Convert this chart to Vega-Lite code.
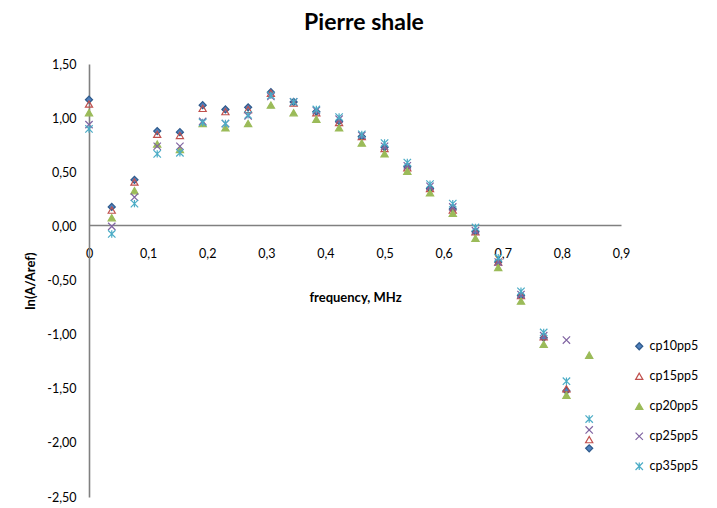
{
  "$schema": "https://vega.github.io/schema/vega-lite/v6.json",
  "width": 532,
  "height": 433,
  "autosize": "none",
  "padding": {"left": 89, "top": 64, "right": 96, "bottom": 11},
  "background": "white",
  "title": {
    "text": "Pierre shale",
    "font": "Lato",
    "fontSize": 23,
    "fontWeight": "bold",
    "color": "black",
    "anchor": "middle",
    "dx": 9,
    "offset": 23
  },
  "config": {
    "view": {"stroke": null},
    "axis": {
      "labelFont": "Lato",
      "labelFontSize": 12.5,
      "labelColor": "black",
      "titleFont": "Lato",
      "titleFontSize": 13,
      "titleFontWeight": "bold",
      "titleColor": "black",
      "domainColor": "#808080",
      "domainWidth": 1.6,
      "ticks": false,
      "grid": false,
      "labelFlush": false
    },
    "legend": {
      "labelFont": "Lato",
      "labelFontSize": 12.5,
      "labelColor": "black",
      "symbolStrokeWidth": 1.2
    }
  },
  "data": {
    "values": [
      {"frequency": 0.0000, "series": "cp10pp5", "lnA": 1.17},
      {"frequency": 0.0385, "series": "cp10pp5", "lnA": 0.18},
      {"frequency": 0.0769, "series": "cp10pp5", "lnA": 0.43},
      {"frequency": 0.1154, "series": "cp10pp5", "lnA": 0.88},
      {"frequency": 0.1538, "series": "cp10pp5", "lnA": 0.87},
      {"frequency": 0.1923, "series": "cp10pp5", "lnA": 1.12},
      {"frequency": 0.2308, "series": "cp10pp5", "lnA": 1.08},
      {"frequency": 0.2692, "series": "cp10pp5", "lnA": 1.10},
      {"frequency": 0.3077, "series": "cp10pp5", "lnA": 1.24},
      {"frequency": 0.3462, "series": "cp10pp5", "lnA": 1.15},
      {"frequency": 0.3846, "series": "cp10pp5", "lnA": 1.06},
      {"frequency": 0.4231, "series": "cp10pp5", "lnA": 0.97},
      {"frequency": 0.4615, "series": "cp10pp5", "lnA": 0.83},
      {"frequency": 0.5000, "series": "cp10pp5", "lnA": 0.73},
      {"frequency": 0.5385, "series": "cp10pp5", "lnA": 0.55},
      {"frequency": 0.5769, "series": "cp10pp5", "lnA": 0.35},
      {"frequency": 0.6154, "series": "cp10pp5", "lnA": 0.16},
      {"frequency": 0.6538, "series": "cp10pp5", "lnA": -0.05},
      {"frequency": 0.6923, "series": "cp10pp5", "lnA": -0.33},
      {"frequency": 0.7308, "series": "cp10pp5", "lnA": -0.64},
      {"frequency": 0.7692, "series": "cp10pp5", "lnA": -1.03},
      {"frequency": 0.8077, "series": "cp10pp5", "lnA": -1.52},
      {"frequency": 0.8462, "series": "cp10pp5", "lnA": -2.05},

      {"frequency": 0.0000, "series": "cp15pp5", "lnA": 1.13},
      {"frequency": 0.0385, "series": "cp15pp5", "lnA": 0.15},
      {"frequency": 0.0769, "series": "cp15pp5", "lnA": 0.41},
      {"frequency": 0.1154, "series": "cp15pp5", "lnA": 0.85},
      {"frequency": 0.1538, "series": "cp15pp5", "lnA": 0.84},
      {"frequency": 0.1923, "series": "cp15pp5", "lnA": 1.09},
      {"frequency": 0.2308, "series": "cp15pp5", "lnA": 1.06},
      {"frequency": 0.2692, "series": "cp15pp5", "lnA": 1.08},
      {"frequency": 0.3077, "series": "cp15pp5", "lnA": 1.23},
      {"frequency": 0.3462, "series": "cp15pp5", "lnA": 1.14},
      {"frequency": 0.3846, "series": "cp15pp5", "lnA": 1.05},
      {"frequency": 0.4231, "series": "cp15pp5", "lnA": 0.96},
      {"frequency": 0.4615, "series": "cp15pp5", "lnA": 0.83},
      {"frequency": 0.5000, "series": "cp15pp5", "lnA": 0.72},
      {"frequency": 0.5385, "series": "cp15pp5", "lnA": 0.54},
      {"frequency": 0.5769, "series": "cp15pp5", "lnA": 0.35},
      {"frequency": 0.6154, "series": "cp15pp5", "lnA": 0.15},
      {"frequency": 0.6538, "series": "cp15pp5", "lnA": -0.05},
      {"frequency": 0.6923, "series": "cp15pp5", "lnA": -0.33},
      {"frequency": 0.7308, "series": "cp15pp5", "lnA": -0.64},
      {"frequency": 0.7692, "series": "cp15pp5", "lnA": -1.02},
      {"frequency": 0.8077, "series": "cp15pp5", "lnA": -1.50},
      {"frequency": 0.8462, "series": "cp15pp5", "lnA": -1.97},

      {"frequency": 0.0000, "series": "cp20pp5", "lnA": 1.05},
      {"frequency": 0.0385, "series": "cp20pp5", "lnA": 0.08},
      {"frequency": 0.0769, "series": "cp20pp5", "lnA": 0.33},
      {"frequency": 0.1154, "series": "cp20pp5", "lnA": 0.76},
      {"frequency": 0.1538, "series": "cp20pp5", "lnA": 0.71},
      {"frequency": 0.1923, "series": "cp20pp5", "lnA": 0.95},
      {"frequency": 0.2308, "series": "cp20pp5", "lnA": 0.91},
      {"frequency": 0.2692, "series": "cp20pp5", "lnA": 0.95},
      {"frequency": 0.3077, "series": "cp20pp5", "lnA": 1.12},
      {"frequency": 0.3462, "series": "cp20pp5", "lnA": 1.05},
      {"frequency": 0.3846, "series": "cp20pp5", "lnA": 0.99},
      {"frequency": 0.4231, "series": "cp20pp5", "lnA": 0.91},
      {"frequency": 0.4615, "series": "cp20pp5", "lnA": 0.77},
      {"frequency": 0.5000, "series": "cp20pp5", "lnA": 0.67},
      {"frequency": 0.5385, "series": "cp20pp5", "lnA": 0.51},
      {"frequency": 0.5769, "series": "cp20pp5", "lnA": 0.31},
      {"frequency": 0.6154, "series": "cp20pp5", "lnA": 0.12},
      {"frequency": 0.6538, "series": "cp20pp5", "lnA": -0.11},
      {"frequency": 0.6923, "series": "cp20pp5", "lnA": -0.38},
      {"frequency": 0.7308, "series": "cp20pp5", "lnA": -0.69},
      {"frequency": 0.7692, "series": "cp20pp5", "lnA": -1.09},
      {"frequency": 0.8077, "series": "cp20pp5", "lnA": -1.56},
      {"frequency": 0.8462, "series": "cp20pp5", "lnA": -1.19},

      {"frequency": 0.0000, "series": "cp25pp5", "lnA": 0.94},
      {"frequency": 0.0385, "series": "cp25pp5", "lnA": 0.00},
      {"frequency": 0.0769, "series": "cp25pp5", "lnA": 0.27},
      {"frequency": 0.1154, "series": "cp25pp5", "lnA": 0.74},
      {"frequency": 0.1538, "series": "cp25pp5", "lnA": 0.74},
      {"frequency": 0.1923, "series": "cp25pp5", "lnA": 0.97},
      {"frequency": 0.2308, "series": "cp25pp5", "lnA": 0.95},
      {"frequency": 0.2692, "series": "cp25pp5", "lnA": 1.02},
      {"frequency": 0.3077, "series": "cp25pp5", "lnA": 1.20},
      {"frequency": 0.3462, "series": "cp25pp5", "lnA": 1.15},
      {"frequency": 0.3846, "series": "cp25pp5", "lnA": 1.07},
      {"frequency": 0.4231, "series": "cp25pp5", "lnA": 0.99},
      {"frequency": 0.4615, "series": "cp25pp5", "lnA": 0.84},
      {"frequency": 0.5000, "series": "cp25pp5", "lnA": 0.74},
      {"frequency": 0.5385, "series": "cp25pp5", "lnA": 0.56},
      {"frequency": 0.5769, "series": "cp25pp5", "lnA": 0.37},
      {"frequency": 0.6154, "series": "cp25pp5", "lnA": 0.18},
      {"frequency": 0.6538, "series": "cp25pp5", "lnA": -0.04},
      {"frequency": 0.6923, "series": "cp25pp5", "lnA": -0.33},
      {"frequency": 0.7308, "series": "cp25pp5", "lnA": -0.63},
      {"frequency": 0.7692, "series": "cp25pp5", "lnA": -1.01},
      {"frequency": 0.8077, "series": "cp25pp5", "lnA": -1.05},
      {"frequency": 0.8462, "series": "cp25pp5", "lnA": -1.88},

      {"frequency": 0.0000, "series": "cp35pp5", "lnA": 0.90},
      {"frequency": 0.0385, "series": "cp35pp5", "lnA": -0.07},
      {"frequency": 0.0769, "series": "cp35pp5", "lnA": 0.21},
      {"frequency": 0.1154, "series": "cp35pp5", "lnA": 0.67},
      {"frequency": 0.1538, "series": "cp35pp5", "lnA": 0.68},
      {"frequency": 0.1923, "series": "cp35pp5", "lnA": 0.96},
      {"frequency": 0.2308, "series": "cp35pp5", "lnA": 0.95},
      {"frequency": 0.2692, "series": "cp35pp5", "lnA": 1.03},
      {"frequency": 0.3077, "series": "cp35pp5", "lnA": 1.21},
      {"frequency": 0.3462, "series": "cp35pp5", "lnA": 1.15},
      {"frequency": 0.3846, "series": "cp35pp5", "lnA": 1.08},
      {"frequency": 0.4231, "series": "cp35pp5", "lnA": 1.01},
      {"frequency": 0.4615, "series": "cp35pp5", "lnA": 0.85},
      {"frequency": 0.5000, "series": "cp35pp5", "lnA": 0.77},
      {"frequency": 0.5385, "series": "cp35pp5", "lnA": 0.59},
      {"frequency": 0.5769, "series": "cp35pp5", "lnA": 0.39},
      {"frequency": 0.6154, "series": "cp35pp5", "lnA": 0.21},
      {"frequency": 0.6538, "series": "cp35pp5", "lnA": -0.01},
      {"frequency": 0.6923, "series": "cp35pp5", "lnA": -0.29},
      {"frequency": 0.7308, "series": "cp35pp5", "lnA": -0.60},
      {"frequency": 0.7692, "series": "cp35pp5", "lnA": -0.98},
      {"frequency": 0.8077, "series": "cp35pp5", "lnA": -1.43},
      {"frequency": 0.8462, "series": "cp35pp5", "lnA": -1.78}
    ]
  },
  "mark": {"type": "point", "opacity": 1, "strokeWidth": 1.2},
  "encoding": {
    "x": {
      "field": "frequency",
      "type": "quantitative",
      "scale": {"domain": [0, 0.9], "nice": false, "zero": false},
      "axis": {
        "title": "frequency, MHz",
        "values": [0, 0.1, 0.2, 0.3, 0.4, 0.5, 0.6, 0.7, 0.8, 0.9],
        "labelExpr": "replace(format(datum.value, '~g'), '.', ',')",
        "offset": -272,
        "labelPadding": 22,
        "titlePadding": 32
      }
    },
    "y": {
      "field": "lnA",
      "type": "quantitative",
      "scale": {"domain": [-2.5, 1.5], "nice": false, "zero": false},
      "axis": {
        "title": "ln(A/Aref)",
        "values": [-2.5, -2, -1.5, -1, -0.5, 0, 0.5, 1, 1.5],
        "labelExpr": "replace(replace(format(datum.value, '.2f'), '.', ','), '−', '-')",
        "labelPadding": 13,
        "titlePadding": 9
      }
    },
    "shape": {
      "field": "series",
      "type": "nominal",
      "scale": {
        "domain": ["cp10pp5", "cp15pp5", "cp20pp5", "cp25pp5", "cp35pp5"],
        "range": ["diamond", "triangle-up", "triangle-up", "M-1,-1L1,1M-1,1L1,-1", "M-1,-1L1,1M-1,1L1,-1M0,-1L0,1"]
      },
      "legend": {
        "title": null,
        "orient": "none",
        "legendX": 544,
        "legendY": 276,
        "rowPadding": 17
      }
    },
    "stroke": {
      "field": "series",
      "type": "nominal",
      "scale": {
        "domain": ["cp10pp5", "cp15pp5", "cp20pp5", "cp25pp5", "cp35pp5"],
        "range": ["#2F5A8C", "#C0504D", "#9BBB59", "#8064A2", "#4BACC6"]
      },
      "legend": {
        "title": null,
        "orient": "none",
        "legendX": 544,
        "legendY": 276,
        "rowPadding": 17
      }
    },
    "fill": {
      "field": "series",
      "type": "nominal",
      "scale": {
        "domain": ["cp10pp5", "cp15pp5", "cp20pp5", "cp25pp5", "cp35pp5"],
        "range": ["#4F81BD", "transparent", "#9BBB59", "transparent", "transparent"]
      },
      "legend": {
        "title": null,
        "orient": "none",
        "legendX": 544,
        "legendY": 276,
        "rowPadding": 17
      }
    },
    "size": {
      "field": "series",
      "type": "nominal",
      "scale": {
        "domain": ["cp10pp5", "cp15pp5", "cp20pp5", "cp25pp5", "cp35pp5"],
        "range": [50, 55, 95, 45, 70]
      },
      "legend": {
        "title": null,
        "orient": "none",
        "legendX": 544,
        "legendY": 276,
        "rowPadding": 17
      }
    }
  }
}
